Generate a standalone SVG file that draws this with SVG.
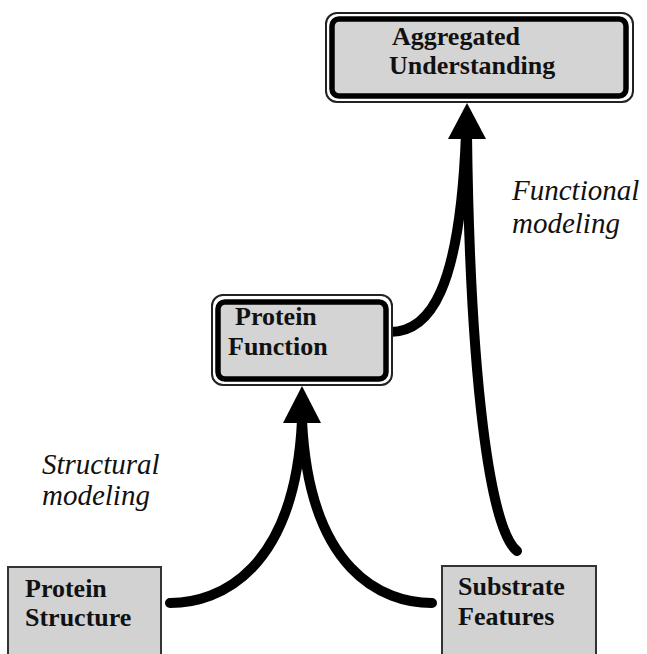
<svg xmlns="http://www.w3.org/2000/svg" width="647" height="654" viewBox="0 0 647 654">
<style>
.outer{fill:#ffffff;stroke:#222;stroke-width:2}
.inner{fill:#d4d4d4;stroke:#000;stroke-width:5.5}
.plain{fill:#d2d2d2;stroke:#333;stroke-width:2}
.t{font-family:"Liberation Serif",serif;font-weight:bold;font-size:26px;fill:#111}
.lab{font-family:"Liberation Serif",serif;font-style:italic;font-size:29px;fill:#111}
.c{fill:none;stroke:#000;stroke-width:10;stroke-linecap:round}
.ah{fill:#000}
</style>
<rect width="647" height="654" fill="#ffffff"/>
<g id="connectors">
<path class="c" d="M170,603 C220,603 295,570 302,420"/>
<path class="c" d="M432,603 C382,603 309,570 302,420"/>
<polygon class="ah" points="302,386 283,423 321,423"/>
<path class="c" d="M390,332 C430,332 460,290 466,134"/>
<path class="c" d="M517,551 C490,530 470,380 467,134"/>
<polygon class="ah" points="467,103 448,139 486,139"/>
</g>
<g id="aggregated">
<rect class="outer" x="326" y="13" width="307" height="89" rx="11"/>
<rect class="inner" x="332" y="19" width="294" height="77" rx="7"/>
<text class="t" x="392" y="45">Aggregated</text>
<text class="t" x="389" y="74">Understanding</text>
</g>
<g id="protein-function">
<rect class="outer" x="212" y="295" width="180" height="90" rx="11"/>
<rect class="inner" x="218" y="302" width="168" height="77" rx="7"/>
<text class="t" x="235" y="325">Protein</text>
<text class="t" x="228" y="355">Function</text>
</g>
<g id="protein-structure">
<rect class="plain" x="8" y="567" width="153" height="95"/>
<text class="t" x="25" y="597">Protein</text>
<text class="t" x="25" y="626">Structure</text>
</g>
<g id="substrate-features">
<rect class="plain" x="442" y="566" width="154" height="96"/>
<text class="t" x="458" y="595">Substrate</text>
<text class="t" x="458" y="625">Features</text>
</g>
<g id="labels">
<text class="lab" x="512" y="200">Functional</text>
<text class="lab" x="512" y="233">modeling</text>
<text class="lab" x="42" y="474">Structural</text>
<text class="lab" x="42" y="505">modeling</text>
</g>
</svg>
